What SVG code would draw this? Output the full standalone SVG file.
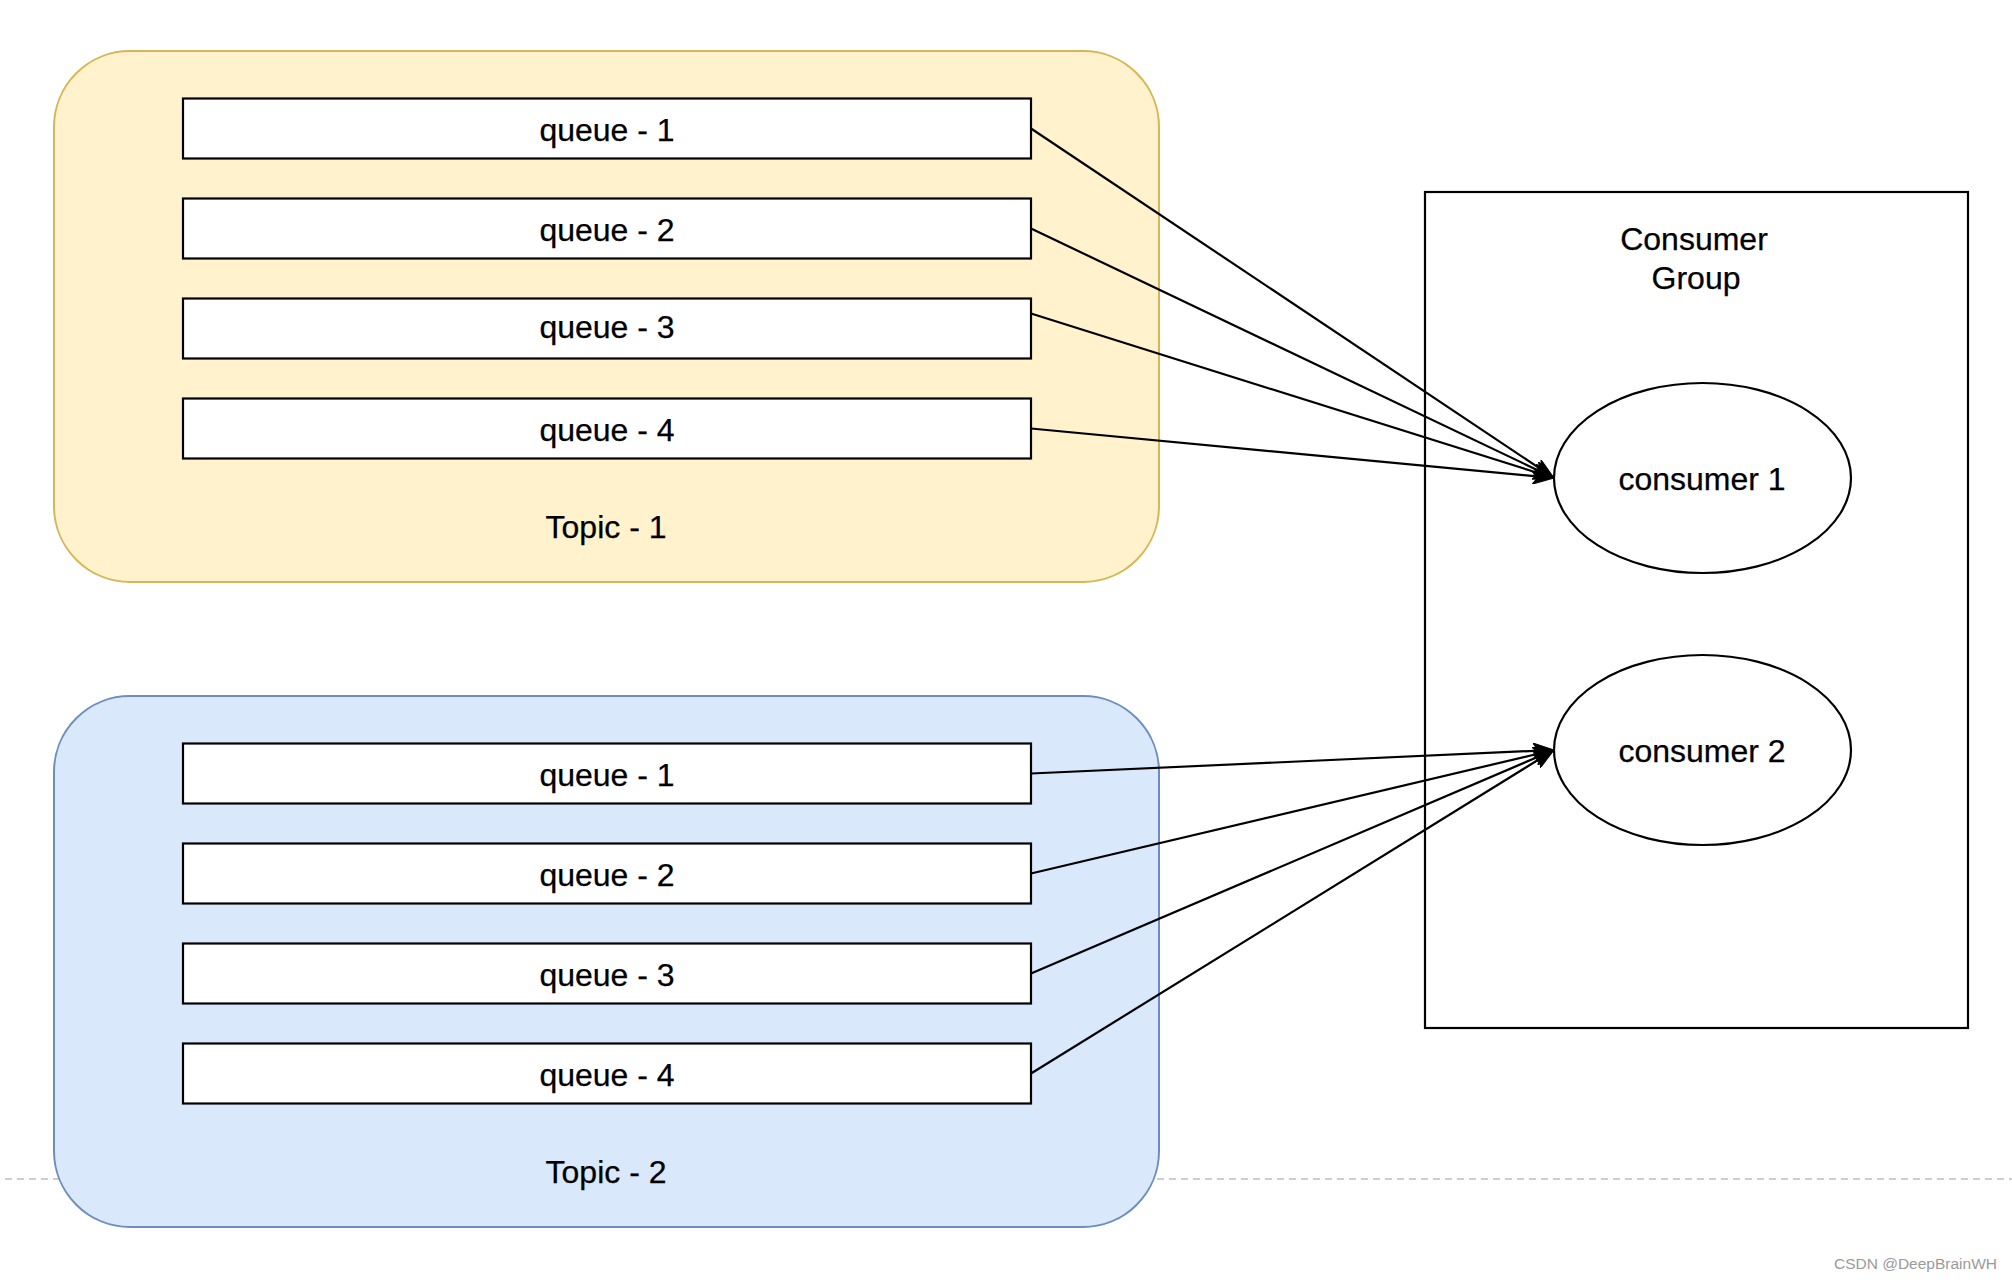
<svg xmlns="http://www.w3.org/2000/svg" width="2012" height="1282" viewBox="0 0 2012 1282">
  <defs>
    <style>
      text { font-family: "Liberation Sans", Arial, Helvetica, sans-serif; fill: #000000; }
      .lbl { font-size: 32px; text-anchor: middle; stroke: #000000; stroke-width: 0.25; }
      .queue { fill: #ffffff; stroke: #000000; stroke-width: 2.2; }
      .topic1 { fill: #fff2cc; stroke: #d6b656; stroke-width: 2; }
      .topic2 { fill: #dae8fc; stroke: #6c8ebf; stroke-width: 2; }
      .plain { fill: #ffffff; stroke: #000000; stroke-width: 2.2; }
      .edge { fill: none; stroke: #000000; stroke-width: 2.2; marker-end: url(#arrow); }
      .divider { stroke: #bdbdbd; stroke-width: 1.5; stroke-dasharray: 7 5; fill: none; }
      .mark { font-size: 15.5px; fill: #9a9a9a; text-anchor: end; }
    </style>
    <marker id="arrow" viewBox="0 0 21 16" refX="11" refY="8" markerWidth="21" markerHeight="16" markerUnits="userSpaceOnUse" orient="auto">
      <path d="M21,8 L0,0 L5.5,8 L0,16 Z" fill="#000000" stroke="#000000" stroke-width="1"/>
    </marker>
  </defs>

  <rect width="2012" height="1282" fill="#ffffff"/>

  <line class="divider" x1="5" y1="1179" x2="2012" y2="1179"/>

  <g id="topic-1">
    <rect class="topic1" x="54" y="51" width="1105" height="531" rx="76" ry="76"/>
    <text class="lbl" x="606" y="538">Topic - 1</text>
  </g>
  <g id="t1-queue-1">
    <rect class="queue" x="183" y="98.5" width="848" height="60"/>
    <text class="lbl" x="607" y="141">queue - 1</text>
  </g>
  <g id="t1-queue-2">
    <rect class="queue" x="183" y="198.5" width="848" height="60"/>
    <text class="lbl" x="607" y="241">queue - 2</text>
  </g>
  <g id="t1-queue-3">
    <rect class="queue" x="183" y="298.5" width="848" height="60"/>
    <text class="lbl" x="607" y="338">queue - 3</text>
  </g>
  <g id="t1-queue-4">
    <rect class="queue" x="183" y="398.5" width="848" height="60"/>
    <text class="lbl" x="607" y="441">queue - 4</text>
  </g>

  <g id="topic-2">
    <rect class="topic2" x="54" y="696" width="1105" height="531" rx="76" ry="76"/>
    <text class="lbl" x="606" y="1183">Topic - 2</text>
  </g>
  <g id="t2-queue-1">
    <rect class="queue" x="183" y="743.5" width="848" height="60"/>
    <text class="lbl" x="607" y="786">queue - 1</text>
  </g>
  <g id="t2-queue-2">
    <rect class="queue" x="183" y="843.5" width="848" height="60"/>
    <text class="lbl" x="607" y="886">queue - 2</text>
  </g>
  <g id="t2-queue-3">
    <rect class="queue" x="183" y="943.5" width="848" height="60"/>
    <text class="lbl" x="607" y="986">queue - 3</text>
  </g>
  <g id="t2-queue-4">
    <rect class="queue" x="183" y="1043.5" width="848" height="60"/>
    <text class="lbl" x="607" y="1086">queue - 4</text>
  </g>

  <g id="consumer-group">
    <rect class="plain" x="1425" y="192" width="543" height="836"/>
    <text class="lbl" x="1694" y="250">Consumer</text>
    <text class="lbl" x="1696" y="289">Group</text>
  </g>
  <g id="consumer-1">
    <ellipse class="plain" cx="1702.5" cy="478" rx="148.5" ry="95"/>
    <text class="lbl" x="1702" y="489.5">consumer 1</text>
  </g>
  <g id="consumer-2">
    <ellipse class="plain" cx="1702.5" cy="750" rx="148.5" ry="95"/>
    <text class="lbl" x="1702" y="761.5">consumer 2</text>
  </g>

  <g id="connectors">
    <line class="edge" x1="1031" y1="128.5" x2="1545.7" y2="472.4"/>
    <line class="edge" x1="1031" y1="228.5" x2="1545.0" y2="473.7"/>
    <line class="edge" x1="1031" y1="313.5" x2="1544.5" y2="475.0"/>
    <line class="edge" x1="1031" y1="428.5" x2="1544.0" y2="477.1"/>
    <line class="edge" x1="1031" y1="773.5" x2="1544.0" y2="750.4"/>
    <line class="edge" x1="1031" y1="873.5" x2="1544.3" y2="752.3"/>
    <line class="edge" x1="1031" y1="973.5" x2="1544.8" y2="753.9"/>
    <line class="edge" x1="1031" y1="1073.5" x2="1545.5" y2="755.3"/>
  </g>

  <text class="mark" x="1997" y="1269">CSDN @DeepBrainWH</text>
</svg>
